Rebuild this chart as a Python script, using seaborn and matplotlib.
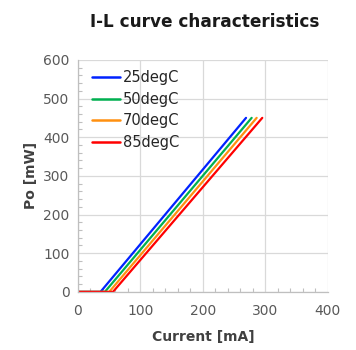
# I-L curve of the laser diode at four temperatures

import matplotlib
matplotlib.use("Agg")
import matplotlib.pyplot as plt
from matplotlib.ticker import MultipleLocator
import seaborn as sns
import pandas as pd

temps = ["25degC", "50degC", "70degC", "85degC"]
# current points [mA]: start, threshold, end
current_25 = [0, 36, 269]
current_50 = [0, 43, 278]
current_70 = [0, 50, 286]
current_85 = [0, 56, 295]
power = [0, 0, 450]  # optical power [mW] at those points

colors = ["#0022FF", "#00B050", "#FF9010", "#FF0000"]

rows = []
for t, cur in zip(temps, [current_25, current_50, current_70, current_85]):
    for c, p in zip(cur, power):
        rows.append({"Temp": t, "Current": c, "Po": p})
df = pd.DataFrame(rows)

sns.set_style("white")
plt.rcParams["font.family"] = ["DejaVu Sans"]

fig = plt.figure(figsize=(3.56, 3.5), dpi=100)
ax = fig.add_axes([0.219, 0.166, 0.702, 0.663])

sns.lineplot(data=df, x="Current", y="Po", hue="Temp", palette=colors,
             linewidth=1.6, sort=False, estimator=None, ax=ax)

ax.set_xlim(0, 400)
ax.set_ylim(0, 600)
ax.xaxis.set_major_locator(MultipleLocator(100))
ax.yaxis.set_major_locator(MultipleLocator(100))
ax.xaxis.set_minor_locator(MultipleLocator(20))
ax.yaxis.set_minor_locator(MultipleLocator(20))
ax.grid(True, which="major", color="#D9D9D9", linewidth=0.9)
ax.set_axisbelow(True)

for s in ["top", "right"]:
    ax.spines[s].set_visible(False)
for s in ["left", "bottom"]:
    ax.spines[s].set_color("#BFBFBF")
    ax.spines[s].set_linewidth(0.9)

ax.tick_params(bottom=True, left=True, which="both")
ax.tick_params(which="major", length=0, labelsize=10, labelcolor="#595959", pad=6)
ax.tick_params(which="minor", length=3, color="#BFBFBF", width=0.8, direction="in")
ax.tick_params(axis="x", which="major", pad=9)

ax.set_xlabel("Current [mA]", fontsize=10, fontweight="bold", color="#404040", labelpad=8)
ax.set_ylabel("Po [mW]", fontsize=10, fontweight="bold", color="#404040", labelpad=4)

fig.text(0.576, 0.937, "I-L curve characteristics", ha="center", va="center",
         fontsize=12.2, fontweight="bold", color="#1a1a1a")

leg = ax.legend(loc="upper left", frameon=False, fontsize=10.5, handlelength=1.9,
                handletextpad=0.2, labelspacing=0.45, borderaxespad=0.3,
                bbox_to_anchor=(0.015, 1.0))
for line in leg.get_lines():
    line.set_linewidth(1.8)

fig.savefig("out.png", dpi=100)
